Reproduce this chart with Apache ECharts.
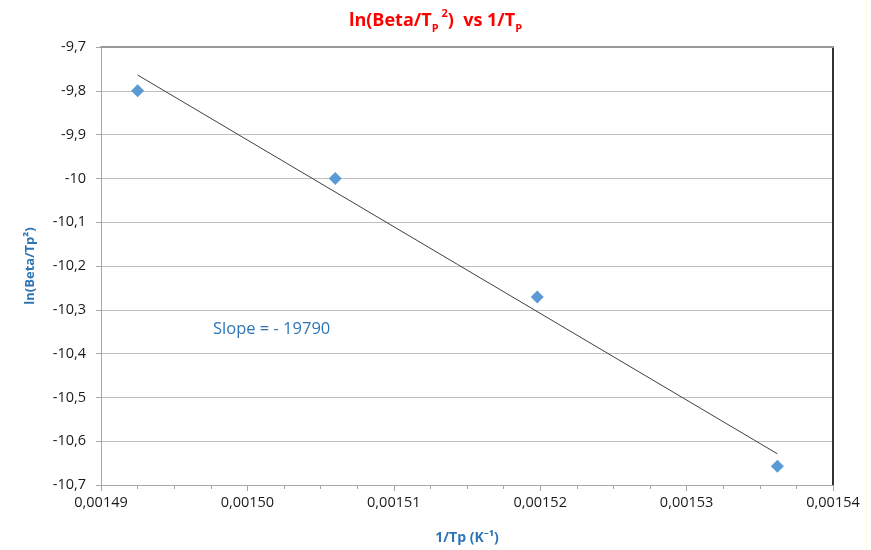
<!DOCTYPE html>
<html>
<head>
<meta charset="utf-8">
<script src="https://cdn.jsdelivr.net/npm/echarts@6/dist/echarts.min.js"></script>
<style>
  html, body { margin: 0; padding: 0; background: #ffffff; }
  #chart { width: 871px; height: 550px; }
</style>
</head>
<body>
<div id="chart"></div>
<script>
// Measured peak data: inverse peak temperature vs ln(beta / Tp^2)
const invTp = [0.0014925, 0.0015060, 0.0015198, 0.0015362];
const lnBetaTp2 = [-9.800, -10.000, -10.271, -10.657];

// Slope of the linear fit, as quoted on the chart
const fitSlope = -19790;

// Axis ranges and tick labels
const xMin = 0.00149, xMax = 0.00154, xStep = 0.00001;
const xTickLabels = ['0,00149', '0,00150', '0,00151', '0,00152', '0,00153', '0,00154'];
const yMin = -10.7, yMax = -9.7, yStep = 0.1;
const yTickLabels = ['-10,7', '-10,6', '-10,5', '-10,4', '-10,3', '-10,2', '-10,1', '-10', '-9,9', '-9,8', '-9,7'];

// Trend line through the centroid of the points with the quoted slope
const n = invTp.length;
const xBar = invTp.reduce((a, b) => a + b, 0) / n;
const yBar = lnBetaTp2.reduce((a, b) => a + b, 0) / n;
const x0 = Math.min(...invTp), x1 = Math.max(...invTp);
const trend = [
  [x0, yBar + fitSlope * (x0 - xBar)],
  [x1, yBar + fitSlope * (x1 - xBar)]
];

const FONT = '"Open Sans", "Noto Sans", sans-serif';
const BLUE = '#2e75b6';

const chart = echarts.init(document.getElementById('chart'), null, { renderer: 'canvas' });

chart.setOption({
  animation: false,
  backgroundColor: '#ffffff',
  textStyle: { fontFamily: FONT },
  title: {
    left: 'center',
    top: 3,
    text: '{a|ln(Beta/T}{s|P}{p| 2}{a|)  vs 1/T}{s|P}',
    textStyle: {
      rich: {
        a: { fontFamily: FONT, fontSize: 18, fontWeight: 'bold', color: '#ff0000', lineHeight: 26 },
        s: { fontFamily: FONT, fontSize: 11, fontWeight: 'bold', color: '#ff0000', lineHeight: 18, verticalAlign: 'bottom' },
        p: { fontFamily: FONT, fontSize: 11, fontWeight: 'bold', color: '#ff0000', lineHeight: 18, verticalAlign: 'top' }
      }
    }
  },
  grid: { left: 101, right: 38, top: 47, bottom: 65, containLabel: false },
  xAxis: [
    {
      type: 'value',
      min: xMin, max: xMax, interval: xStep,
      name: '1/Tp (K\u207B\u00B9)',
      nameLocation: 'middle',
      nameGap: 46,
      nameTextStyle: { fontFamily: FONT, fontSize: 14, fontWeight: 'bold', color: BLUE },
      axisLine: { show: true, lineStyle: { color: '#a6a6a6', width: 1 } },
      axisTick: { show: true, length: 6, lineStyle: { color: '#a6a6a6' } },
      minorTick: { show: true, splitNumber: 4, length: 4, lineStyle: { color: '#a6a6a6' } },
      splitLine: { show: false },
      axisLabel: {
        margin: 10,
        fontFamily: FONT, fontSize: 14.5, color: '#1a1a1a',
        formatter: v => xTickLabels[Math.round((v - xMin) / xStep)]
      }
    },
    {
      // upper edge of the plot frame
      type: 'value', position: 'top',
      min: xMin, max: xMax,
      axisLine: { show: true, lineStyle: { color: '#999999', width: 2 } },
      axisTick: { show: false }, axisLabel: { show: false }, splitLine: { show: false }
    }
  ],
  yAxis: [
    {
      type: 'value',
      min: yMin, max: yMax, interval: yStep,
      name: 'ln(Beta/Tp\u00B2)',
      nameLocation: 'middle',
      nameRotate: 90,
      nameGap: 64,
      nameTextStyle: { fontFamily: FONT, fontSize: 13, fontWeight: 'bold', color: BLUE },
      axisLine: { show: true, lineStyle: { color: '#a6a6a6', width: 1 } },
      axisTick: { show: true, length: 5, lineStyle: { color: '#a6a6a6' } },
      splitLine: { show: true, lineStyle: { color: '#bfbfbf', width: 1 } },
      axisLabel: {
        margin: 15,
        fontFamily: FONT, fontSize: 14.5, color: '#1a1a1a',
        formatter: v => yTickLabels[Math.round((v - yMin) / yStep)]
      }
    },
    {
      // right edge of the plot frame
      type: 'value', position: 'right',
      min: yMin, max: yMax,
      axisLine: { show: true, lineStyle: { color: '#333333', width: 2 } },
      axisTick: { show: false }, axisLabel: { show: false }, splitLine: { show: false }
    }
  ],
  series: [
    {
      name: 'trend',
      type: 'line',
      data: trend,
      symbol: 'none',
      lineStyle: { color: '#404040', width: 1 },
      silent: true,
      z: 2
    },
    {
      name: 'ln(Beta/Tp2)',
      type: 'scatter',
      data: invTp.map((x, i) => [x, lnBetaTp2[i]]),
      symbol: 'diamond',
      symbolSize: 13,
      itemStyle: { color: '#5b9bd5', opacity: 1 },
      z: 3
    }
  ],
  graphic: [
    {
      type: 'text',
      left: 213,
      top: 321,
      style: {
        text: 'Slope = - 19790',
        fontFamily: FONT,
        fontSize: 16.5,
        fill: BLUE
      }
    },
    {
      // thin edge line along the right side of the page
      type: 'rect',
      shape: { x: 866, y: 0, width: 1, height: 550 },
      style: { fill: '#fdfbd8' },
      silent: true
    }
  ]
});
</script>
</body>
</html>
